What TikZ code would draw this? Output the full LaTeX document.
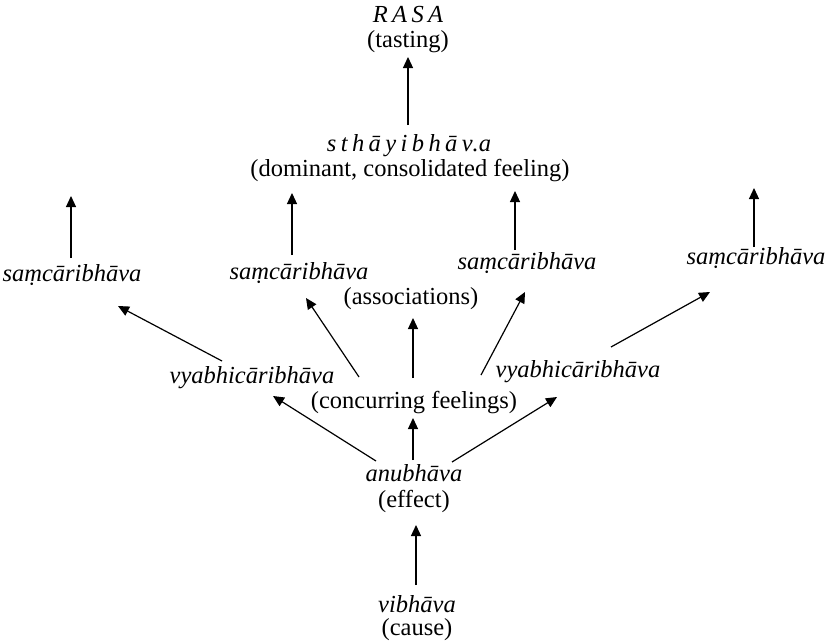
\documentclass[tikz,border=0pt]{standalone}
\usepackage{fontspec}
\setmainfont{Liberation Serif}
\usetikzlibrary{arrows.meta}
\begin{document}
\begin{tikzpicture}[x=1pt,y=-1pt,
  lbl/.style={anchor=base,inner sep=0pt,font=\fontsize{24.5}{28}\selectfont},
  it/.style={anchor=base,inner sep=0pt,font=\fontsize{24.5}{28}\selectfont\itshape},
  arr/.style={-{Triangle[length=11pt,width=10pt]},line width=1.2pt}]
\fill[white] (0,0) rectangle (826,642);
\useasboundingbox (0,0) rectangle (826,642);
% nodes
\node[it]  (rasa)     at (408,23)  {\addfontfeature{LetterSpace=18}RASA};
\node[lbl] (tasting)  at (408,48)  {(tasting)};
\node[it]  (sthayi)   at (409,151) {{\addfontfeature{LetterSpace=18}sthāyibhāv}.a};
\node[lbl] (dominant) at (410,176) {(dominant, consolidated feeling)};
\node[it]  (saA)      at (72,281)  {saṃcāribhāva};
\node[it]  (saB)      at (299,279) {saṃcāribhāva};
\node[lbl] (assoc)    at (411,304) {(associations)};
\node[it]  (saC)      at (527,269) {saṃcāribhāva};
\node[it]  (saD)      at (756,264) {saṃcāribhāva};
\node[it]  (vyL)      at (252,383) {vyabhicāribhāva};
\node[lbl] (conc)     at (414,408) {(concurring feelings)};
\node[it]  (vyR)      at (578,377) {vyabhicāribhāva};
\node[it]  (anu)      at (414,481) {anubhāva};
\node[lbl] (effect)   at (414,507) {(effect)};
\node[it]  (vib)      at (417,612) {vibhāva};
\node[lbl] (cause)    at (417,635) {(cause)};
\coordinate (topA) at (71,196);
\coordinate (topD) at (754,188);
% connectors
\draw[arr] ([shift={(-1,-26)}]sthayi.base) -- ([shift={(0,9)}]tasting.base);
\draw[arr] ([shift={(-1,-23)}]saA.base) -- (topA);
\draw[arr] ([shift={(-7,-24)}]saB.base) -- ([shift={(-118,17)}]dominant.base);
\draw[arr] ([shift={(-12,-19)}]saC.base) -- ([shift={(105,15)}]dominant.base);
\draw[arr] ([shift={(-2,-17)}]saD.base) -- (topD);
\draw[arr] ([shift={(-30,-22)}]vyL.base) -- ([shift={(46,25)}]saA.base);
\draw[arr] ([shift={(-55,-31)}]conc.base) -- ([shift={(7,19)}]saB.base);
\draw[arr] ([shift={(-1,-30)}]conc.base) -- ([shift={(2,14)}]assoc.base);
\draw[arr] ([shift={(67,-33)}]conc.base) -- ([shift={(-2,23)}]saC.base);
\draw[arr] ([shift={(33,-30)}]vyR.base) -- ([shift={(-46,28)}]saD.base);
\draw[arr] ([shift={(-38,-20)}]anu.base) -- ([shift={(21,13)}]vyL.base);
\draw[arr] ([shift={(-1,-21)}]anu.base) -- ([shift={(-1,10)}]conc.base);
\draw[arr] ([shift={(38,-19)}]anu.base) -- ([shift={(-21,20)}]vyR.base);
\draw[arr] ([shift={(-1,-27)}]vib.base) -- ([shift={(2,18)}]effect.base);
\end{tikzpicture}
\end{document}
